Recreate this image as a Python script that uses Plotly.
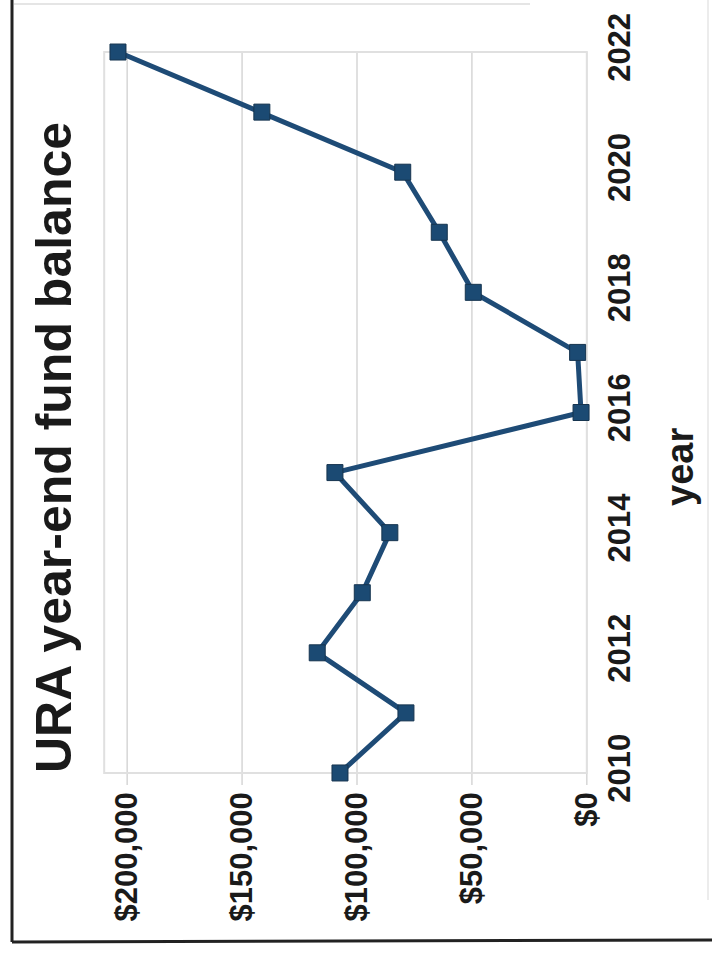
import plotly.graph_objects as go

# URA year-end fund balance, by year
years = [2010, 2011, 2012, 2013, 2014, 2015, 2016, 2017, 2018, 2019, 2020, 2021, 2022]
balance = [107400, 78700, 117300, 97700, 85700, 109600, 2500, 4000, 49400, 64200, 80100, 141400, 204000]
dollar_ticks = [0, 50000, 100000, 150000, 200000]
dollar_labels = ["$0", "$50,000", "$100,000", "$150,000", "$200,000"]
year_ticks = [2010, 2012, 2014, 2016, 2018, 2020, 2022]

# plotted frame of the chart (data units)
X_MAX, Y_MIN, Y_MAX = 210000, 2010, 2022

W, H = 712, 955
L, R, T, B = 95, 116, 28, 158
PW, PH = W - L - R, H - T - B

def px(x):
    return (x - L) / PW

def py(y):
    return (H - B - y) / PH

FONT = "Liberation Sans, Arial, sans-serif"
INK = "#1a1a1a"
LINE = "#1e4b76"
GRID = "#d6d6d6"

fig = go.Figure()
fig.add_trace(go.Scatter(
    x=balance, y=years, mode="lines+markers",
    line=dict(color=LINE, width=5),
    marker=dict(symbol="square", size=16, color="#1b4a73",
                line=dict(color="#16344f", width=1)),
    hoverinfo="skip",
))

fig.update_layout(
    width=W, height=H,
    margin=dict(l=L, r=R, t=T, b=B, pad=0),
    paper_bgcolor="white", plot_bgcolor="white",
    showlegend=False,
    xaxis=dict(
        range=[214000, -4000], tickvals=dollar_ticks, ticktext=dollar_labels,
        tickangle=-90,
        tickfont=dict(family=FONT, size=31, color=INK, weight="bold"),
        showgrid=False, showline=False, zeroline=False, ticks="",
        ticklabelstandoff=-12,
    ),
    yaxis=dict(
        range=[2009.6, 2022.4], tickvals=year_ticks, side="right",
        tickangle=-90,
        tickfont=dict(family=FONT, size=31, color=INK, weight="bold"),
        showgrid=False, showline=False, zeroline=False, ticks="",
        ticklabelstandoff=2,
    ),
)

# value gridlines (running a little past the year axis) and plot border
for v in dollar_ticks:
    fig.add_shape(type="line", xref="x", yref="y", layer="below",
                  x0=v, x1=v, y0=Y_MIN - 0.2, y1=Y_MAX,
                  line=dict(color=GRID, width=1.5))
fig.add_shape(type="rect", xref="x", yref="y", layer="below",
              x0=X_MAX, x1=0, y0=Y_MIN, y1=Y_MAX,
              line=dict(color="#e0e0e0", width=2))

# rotated chart title and axis title
fig.add_annotation(text="<b>URA year-end fund balance</b>", textangle=-90,
                   xref="paper", yref="paper", x=px(54), y=py(448),
                   xanchor="center", yanchor="middle", showarrow=False,
                   font=dict(family=FONT, size=50, color=INK))
fig.add_annotation(text="<b>year</b>", textangle=-90,
                   xref="paper", yref="paper", x=px(680), y=py(467),
                   xanchor="center", yanchor="middle", showarrow=False,
                   font=dict(family=FONT, size=38, color=INK))

# page frame
fig.add_shape(type="line", xref="paper", yref="paper",
              x0=px(12), x1=px(12), y0=py(0), y1=py(942),
              line=dict(color="#222222", width=3))
fig.add_shape(type="line", xref="paper", yref="paper",
              x0=px(12), x1=px(712), y0=py(942), y1=py(940),
              line=dict(color="#222222", width=3))
fig.add_shape(type="line", xref="paper", yref="paper",
              x0=px(14), x1=px(530), y0=py(4), y1=py(4),
              line=dict(color="#dddddd", width=1.5))
fig.add_shape(type="line", xref="paper", yref="paper",
              x0=px(708), x1=px(708), y0=py(0), y1=py(900),
              line=dict(color="#e6e6e6", width=1.5))

fig.write_html("out.html")
